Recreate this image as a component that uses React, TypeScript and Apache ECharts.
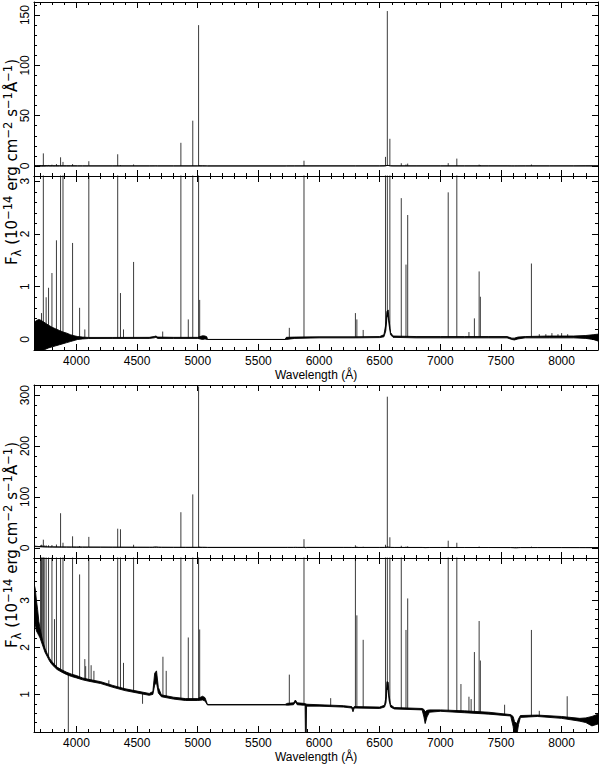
import React, { useEffect, useRef } from "react";
import * as echarts from "echarts";

const FONT = "'Liberation Sans', Arial, Helvetica, sans-serif";
const TITLE_FONT = "'DejaVu Sans', 'Liberation Sans', sans-serif";

// ---------- axis ranges and ticks ----------
const X_MIN = 3650;
const X_MAX = 8300;
const xMajor = [4000, 4500, 5000, 5500, 6000, 6500, 7000, 7500, 8000];
const xMinor = [3700, 3800, 3900, 4100, 4200, 4300, 4400, 4600, 4700, 4800, 4900, 5100, 5200, 5300, 5400, 5600, 5700, 5800, 5900, 6100, 6200, 6300, 6400, 6600, 6700, 6800, 6900, 7100, 7200, 7300, 7400, 7600, 7700, 7800, 7900, 8100, 8200];

const y1Range = [-10, 163];
const y1Major = [0, 50, 100, 150];
const y1Minor = [10, 20, 30, 40, 60, 70, 80, 90, 110, 120, 130, 140, 160];

const y2Range = [-0.2, 3.1];
const y2Major = [0, 1, 2, 3];
const y2Minor = [0.2, 0.4, 0.6, 0.8, 1.2, 1.4, 1.6, 1.8, 2.2, 2.4, 2.6, 2.8];

const y3Range = [-20, 320];
const y3Major = [0, 100, 200, 300];
const y3Minor = [20, 40, 60, 80, 120, 140, 160, 180, 220, 240, 260, 280];

const y4Range = [0.2, 3.9];
const y4Major = [1, 2, 3];
const y4Minor = [0.4, 0.6, 0.8, 1.2, 1.4, 1.6, 1.8, 2.2, 2.4, 2.6, 2.8, 3.2, 3.4, 3.6, 3.8];

// ---------- object 1: continuum [wavelength, lower edge, upper edge] ----------
const continuum1: [number, number, number][] = [
  [3650, -0.22, 0.32], [3670, -0.25, 0.36], [3690, -0.22, 0.38], [3710, -0.2, 0.36],
  [3730, -0.2, 0.33], [3750, -0.18, 0.3], [3770, -0.16, 0.27], [3800, -0.14, 0.23],
  [3830, -0.12, 0.2], [3860, -0.1, 0.17], [3890, -0.08, 0.14], [3920, -0.06, 0.12],
  [3950, -0.04, 0.09], [3980, -0.02, 0.07], [4010, 0.0, 0.055], [4050, 0.01, 0.045],
  [4100, 0.018, 0.038], [4300, 0.02, 0.038], [4600, 0.02, 0.04], [4640, 0.03, 0.055],
  [4655, 0.04, 0.065], [4670, 0.02, 0.045], [4800, 0.02, 0.04], [5000, 0.02, 0.04],
  [5040, 0.0, 0.07], [5060, 0.01, 0.065], [5075, 0.0, 0.05], [5080, 0.0, 0.0],
  [5720, 0.0, 0.0], [5730, 0.0, 0.04], [5800, 0.02, 0.045], [6000, 0.03, 0.05],
  [6300, 0.03, 0.05], [6500, 0.035, 0.055], [6535, 0.05, 0.09], [6550, 0.16, 0.28],
  [6560, 0.42, 0.53], [6570, 0.44, 0.56], [6578, 0.27, 0.36], [6590, 0.09, 0.13],
  [6610, 0.04, 0.065], [6800, 0.03, 0.055], [7000, 0.03, 0.055], [7200, 0.03, 0.055],
  [7400, 0.03, 0.055], [7550, 0.03, 0.055], [7590, 0.0, 0.025], [7610, -0.01, 0.025],
  [7640, 0.01, 0.045], [7700, 0.03, 0.055], [7900, 0.03, 0.065], [8100, 0.03, 0.065],
  [8200, 0.02, 0.075], [8260, 0.0, 0.09], [8300, -0.03, 0.1],
];

// ---------- object 1: emission lines [wavelength, peak flux] ----------
const lines1: [number, number][] = [
  [3712, 0.5], [3727, 12.5], [3750, 0.8], [3770, 0.98], [3798, 1.26], [3835, 1.88],
  [3869, 8.6], [3889, 4.0], [3968, 1.83], [4026, 0.6], [4069, 0.19], [4102, 4.7],
  [4340, 11.6], [4363, 0.88], [4388, 0.19], [4471, 1.47], [4711, 0.15], [4861, 23],
  [4922, 0.38], [4959, 45], [5007, 140], [5016, 0.75], [5755, 0.22], [5876, 5.2],
  [6300, 0.5], [6312, 0.38], [6364, 0.18], [6548, 9], [6563, 154], [6584, 27],
  [6678, 2.68], [6717, 1.42], [6731, 2.36], [7065, 2.79], [7136, 7.3], [7236, 0.14],
  [7281, 0.4], [7320, 1.29], [7330, 0.81], [7751, 1.44], [7816, 0.1], [7870, 0.1],
  [7920, 0.12], [7970, 0.1], [8000, 0.12], [8050, 0.1],
];

// ---------- object 2: continuum [wavelength, lower edge, upper edge] ----------
const continuum2: [number, number, number][] = [
  [3650, 2.4, 3.35], [3660, 2.5, 3.25], [3670, 2.35, 3.0], [3680, 2.3, 2.8],
  [3690, 2.25, 2.55], [3700, 2.2, 2.4], [3720, 2.05, 2.15], [3740, 1.9, 1.98],
  [3760, 1.8, 1.86], [3780, 1.7, 1.76], [3800, 1.63, 1.69], [3840, 1.53, 1.58],
  [3880, 1.47, 1.52], [3920, 1.42, 1.47], [3960, 1.38, 1.43], [4000, 1.35, 1.4],
  [4050, 1.31, 1.35], [4100, 1.28, 1.32], [4200, 1.23, 1.27], [4300, 1.15, 1.19],
  [4400, 1.08, 1.12], [4500, 1.03, 1.07], [4600, 0.98, 1.02], [4630, 1.0, 1.06],
  [4645, 1.2, 1.45], [4660, 1.25, 1.5], [4675, 1.03, 1.15], [4700, 0.95, 0.99],
  [4800, 0.9, 0.94], [4900, 0.87, 0.91], [5000, 0.87, 0.91], [5040, 0.88, 0.96],
  [5060, 0.86, 0.93], [5080, 0.775, 0.785], [5720, 0.775, 0.785], [5740, 0.77, 0.81],
  [5790, 0.78, 0.82], [5805, 0.84, 0.88], [5820, 0.78, 0.82], [5870, 0.77, 0.81],
  [5885, 0.77, 0.8], [5888, 0.1, 0.8], [5894, 0.1, 0.8], [5897, 0.75, 0.79],
  [6000, 0.75, 0.78], [6200, 0.73, 0.76], [6270, 0.71, 0.74], [6280, 0.63, 0.7],
  [6290, 0.71, 0.74], [6500, 0.7, 0.73], [6540, 0.73, 0.77], [6552, 0.82, 0.95],
  [6560, 1.12, 1.27], [6570, 1.08, 1.26], [6578, 0.87, 0.97], [6590, 0.73, 0.78],
  [6620, 0.69, 0.72], [6850, 0.67, 0.7], [6865, 0.52, 0.68], [6875, 0.38, 0.63],
  [6890, 0.52, 0.66], [6910, 0.62, 0.67], [7000, 0.64, 0.67], [7200, 0.61, 0.65],
  [7400, 0.58, 0.62], [7580, 0.54, 0.57], [7600, 0.32, 0.53], [7612, 0.1, 0.42],
  [7630, 0.12, 0.38], [7645, 0.36, 0.48], [7660, 0.51, 0.55], [7800, 0.53, 0.56],
  [8000, 0.49, 0.53], [8150, 0.43, 0.49], [8200, 0.4, 0.5], [8250, 0.33, 0.53],
  [8300, 0.37, 0.58],
];

// ---------- object 2: emission / absorption lines [wavelength, peak flux] ----------
const lines2: [number, number][] = [
  [3704, 5], [3712, 6], [3722, 5], [3727, 16], [3734, 5], [3750, 5], [3770, 5],
  [3798, 5.5], [3819, 2.6], [3835, 6.5], [3869, 68], [3889, 10], [3933, 0.1],
  [3968, 22.6], [4026, 3.55], [4069, 1.75], [4076, 1.6], [4102, 21.5], [4121, 1.62],
  [4144, 1.5], [4267, 1.3], [4340, 37.6], [4363, 36.5], [4388, 1.67], [4471, 6],
  [4545, 0.8], [4713, 1.8], [4740, 1.5], [4861, 70], [4922, 2.21], [4959, 105],
  [5007, 317], [5016, 2.38], [5755, 1.42], [5876, 17], [6096, 0.92], [6300, 5],
  [6312, 2.68], [6364, 2.16], [6548, 6], [6563, 297], [6584, 20.7], [6678, 4],
  [6717, 2.37], [6731, 3.04], [7065, 14], [7136, 10], [7170, 1.22], [7236, 0.95],
  [7254, 0.9], [7281, 1.9], [7320, 2.56], [7330, 1.72], [7530, 0.78], [7751, 2.37],
  [7816, 0.65], [8046, 0.96],
];

// ---------- helpers ----------
function continuumMid(cont: [number, number, number][], w: number): number {
  for (let i = 0; i < cont.length - 1; i++) {
    const a = cont[i];
    const b = cont[i + 1];
    if (w >= a[0] && w <= b[0]) {
      const t = (w - a[0]) / (b[0] - a[0]);
      return ((a[1] + a[2]) / 2) * (1 - t) + ((b[1] + b[2]) / 2) * t;
    }
  }
  const last = cont[cont.length - 1];
  return (last[1] + last[2]) / 2;
}

function spikes(lines: [number, number][], cont: [number, number, number][]) {
  const out: any[] = [];
  for (const [w, p] of lines) {
    const b = continuumMid(cont, w);
    out.push([w, b], [w, p], [w, null]);
  }
  return out;
}

const grids = [
  { left: 34, top: 2, width: 564, height: 174 },
  { left: 34, top: 176, width: 564, height: 174 },
  { left: 34, top: 385, width: 564, height: 173 },
  { left: 34, top: 558, width: 564, height: 174 },
];

const panels = [
  { yRange: y1Range, yMajor: y1Major, yMinor: y1Minor, cont: continuum1, lines: lines1, xLabels: false },
  { yRange: y2Range, yMajor: y2Major, yMinor: y2Minor, cont: continuum1, lines: lines1, xLabels: true },
  { yRange: y3Range, yMajor: y3Major, yMinor: y3Minor, cont: continuum2, lines: lines2, xLabels: false },
  { yRange: y4Range, yMajor: y4Major, yMinor: y4Minor, cont: continuum2, lines: lines2, xLabels: true },
];

const ytitleRich = {
  n: { fontSize: 15, fontFamily: TITLE_FONT, color: "#000", lineHeight: 21, verticalAlign: "middle" },
  sup: { fontSize: 11.5, fontFamily: TITLE_FONT, color: "#000", lineHeight: 11.5, verticalAlign: "top" },
  sub: { fontSize: 11.5, fontFamily: TITLE_FONT, color: "#000", lineHeight: 11.5, verticalAlign: "bottom" },
};
const ytitleText = "{n|F}{sub|λ}{n| (10}{sup|−14}{n| erg cm}{sup|−2}{n| s}{sup|−1}{n|Å}{sup|−1}{n|)}";

function bandRenderer(cont: [number, number, number][]) {
  return (params: any, api: any) => {
    const cs = params.coordSys;
    const upper = cont.map((c) => api.coord([c[0], c[2]]));
    const lower = cont
      .slice()
      .reverse()
      .map((c) => api.coord([c[0], c[1]]));
    return {
      type: "polygon",
      shape: { points: upper.concat(lower) },
      style: { fill: "#000", stroke: "#000", lineWidth: 0.9 },
      clipPath: { type: "rect", shape: { x: cs.x, y: cs.y, width: cs.width, height: cs.height } },
    };
  };
}

function buildOption() {
  const xAxis: any[] = [];
  const yAxis: any[] = [];
  const series: any[] = [];

  panels.forEach((p, g) => {
    const xa = (position: string, ticks: number[], len: number, main: boolean, labels: boolean) => ({
      type: "value",
      gridIndex: g,
      min: X_MIN,
      max: X_MAX,
      position,
      z: 5,
      axisLine: { show: main, onZero: false, lineStyle: { color: "#000", width: 1 } },
      axisTick: { show: true, inside: true, length: len, customValues: ticks, lineStyle: { color: "#000", width: 1 } },
      axisLabel: labels
        ? {
            show: true,
            customValues: ticks,
            margin: 5,
            fontSize: 12,
            fontFamily: FONT,
            color: "#000",
            formatter: (v: number) => String(v),
          }
        : { show: false },
      splitLine: { show: false },
      ...(labels
        ? {
            name: "Wavelength (Å)",
            nameLocation: "middle",
            nameGap: 19,
            nameTextStyle: { fontSize: 12, fontFamily: FONT, color: "#000" },
          }
        : {}),
    });
    xAxis.push(xa("bottom", xMajor, 6, true, p.xLabels));
    xAxis.push(xa("bottom", xMinor, 3, false, false));
    xAxis.push(xa("top", xMajor, 6, true, false));
    xAxis.push(xa("top", xMinor, 3, false, false));

    const ya = (position: string, ticks: number[], len: number, main: boolean, labels: boolean) => ({
      type: "value",
      gridIndex: g,
      min: p.yRange[0],
      max: p.yRange[1],
      position,
      z: 5,
      axisLine: { show: main, onZero: false, lineStyle: { color: "#000", width: 1 } },
      axisTick: { show: true, inside: true, length: len, customValues: ticks, lineStyle: { color: "#000", width: 1 } },
      axisLabel: labels
        ? {
            show: true,
            customValues: ticks,
            rotate: 90,
            margin: 3,
            fontSize: 12,
            fontFamily: FONT,
            color: "#000",
            formatter: (v: number) => String(v),
          }
        : { show: false },
      splitLine: { show: false },
    });
    yAxis.push(ya("left", p.yMajor, 6, true, true));
    yAxis.push(ya("left", p.yMinor, 3, false, false));
    yAxis.push(ya("right", p.yMajor, 6, true, false));
    yAxis.push(ya("right", p.yMinor, 3, false, false));

    series.push({
      type: "line",
      xAxisIndex: g * 4,
      yAxisIndex: g * 4,
      symbol: "none",
      silent: true,
      animation: false,
      clip: true,
      z: 2,
      data: spikes(p.lines, p.cont),
      connectNulls: false,
      lineStyle: { color: "#3c3c3c", width: 1 },
    });
    series.push({
      type: "custom",
      xAxisIndex: g * 4,
      yAxisIndex: g * 4,
      silent: true,
      animation: false,
      clip: true,
      z: 3,
      data: [[p.cont[0][0], p.cont[0][1]]],
      renderItem: bandRenderer(p.cont),
    });
  });

  return {
    animation: false,
    backgroundColor: "#fff",
    grid: grids,
    xAxis,
    yAxis,
    series,
    graphic: [
      {
        type: "text",
        x: 12,
        y: 162,
        rotation: Math.PI / 2,
        style: { text: ytitleText, rich: ytitleRich, align: "center", verticalAlign: "middle", fill: "#000" },
      },
      {
        type: "text",
        x: 12,
        y: 545,
        rotation: Math.PI / 2,
        style: { text: ytitleText, rich: ytitleRich, align: "center", verticalAlign: "middle", fill: "#000" },
      },
    ],
  };
}

export default function App() {
  const ref = useRef<HTMLDivElement>(null);
  useEffect(() => {
    if (!ref.current) return;
    const chart = echarts.init(ref.current, undefined, { renderer: "svg" });
    chart.setOption(buildOption() as any);
    return () => chart.dispose();
  }, []);
  return (
    <div
      ref={ref}
      style={{ position: "absolute", left: 0, top: 0, width: 600, height: 764, background: "#fff" }}
    />
  );
}
